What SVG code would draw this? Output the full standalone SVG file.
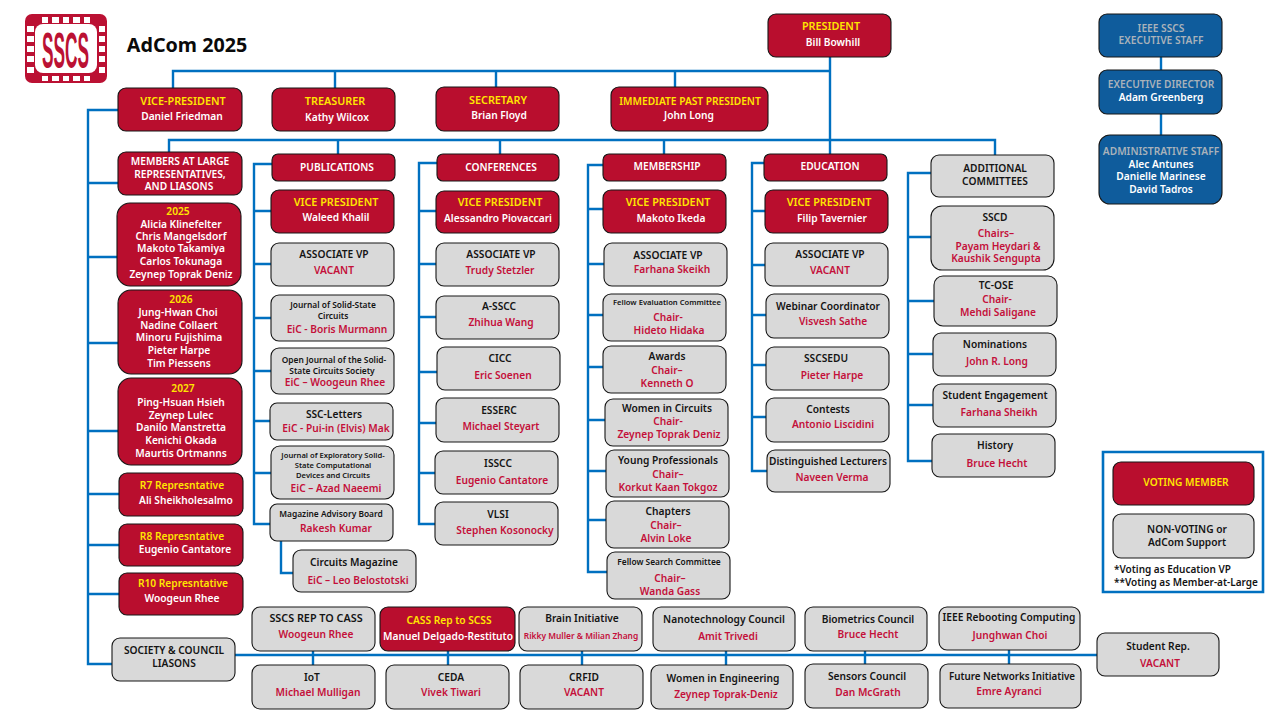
<svg xmlns="http://www.w3.org/2000/svg" width="1280" height="720" viewBox="0 0 1280 720">
<style>
rect.r,rect.g,rect.b{stroke:#161616;stroke-width:1.1}
.r{fill:#b90e2e}.g{fill:#d9d9d9}.b{fill:#0f5c9c}
text{font-family:"Noto Sans","Liberation Sans",sans-serif;font-weight:600;font-size:10.2px;text-anchor:middle}
.y{fill:#ffe600}.w{fill:#fff}.k{fill:#141414}.m{fill:#c4103a}.h{fill:#a9b2ba}
.s{font-size:8.4px}.t{font-size:7.6px}.l{font-size:10.8px}
#conn path{fill:none;stroke:#0070c0;stroke-width:2.4}
</style>
<g id="logo">
<rect x="25" y="14" width="82" height="69" rx="7" fill="#bb1133"/>
<rect x="35" y="24" width="62" height="49" rx="8" fill="#fff"/>
<path fill="#fff" d="M42 17h6v6h-6zM52 17h7v6h-7zM63 17h6v6h-6zM73 17h7v6h-7zM84 17h6v6h-6zM42 76h6v5h-6zM52 76h7v5h-7zM63 76h6v5h-6zM73 76h7v5h-7zM84 76h6v5h-6zM27 26h7v6h-7zM27 36h7v6h-7zM27 46h7v6h-7zM27 56h7v6h-7zM27 67h7v6h-7zM99 26h6v6h-6zM99 36h6v6h-6zM99 46h6v6h-6zM99 56h6v6h-6zM99 67h6v6h-6z"/>
<text transform="matrix(.48 0 0 1.39 65.500 68)" style="font-family:'Liberation Sans',sans-serif;font-weight:700;font-size:36px;fill:#bb1133">SSCS</text>
</g>
<text id="title" x="187" y="52" style="font-size:19.700px;font-weight:700;fill:#0a0a0a">AdCom 2025</text>
<g id="conn">
<path d="M173 88V71H830M335 71V88M496 71V88M675 71V88M830 57V154"/>
<path d="M169 152V140H995V155M338 140V154M500 140V154M664 140V154"/>
<path d="M118 110H88V664H112M88 183H118M88 257H118M88 343H118M88 431H118M88 494H119M88 545H119M88 594H119"/>
<path d="M272 164H254V524H270M254 211H271M254 264H271M254 318H271M254 371H271M254 421H270M254 473H271"/>
<path d="M281 541V573H293"/>
<path d="M437 163H419V524H435M419 211H436M419 264H436M419 317H436M419 372H437M419 423H436M419 473H435"/>
<path d="M603 165H588V572H607M588 209H603M588 264H604M588 315H603M588 367H603M588 420H605M588 471H606M588 520H606"/>
<path d="M764 163H752V471H767M752 211H765M752 265H765M752 315H766M752 365H766M752 417H766"/>
<path d="M931 173H908V461H932M908 237H931M908 301H934M908 354H933M908 405H933"/>
<path d="M1161 57V70M1161 114V135"/>
<path d="M235 655H1097M313 651V665M448 651V665M582 651V665M726 651V665M865 651V665M1009 650V664"/>
<path d="M1103 452H1263V592H1103Z" style="stroke-width:2.600"/>
</g>
<g id="president"><rect class="r" x="768" y="14" width="123" height="43" rx="8"/><text class="y l" x="831" y="30">PRESIDENT</text><text class="w" x="833" y="46">Bill Bowhill</text></g>
<g id="staff1"><rect class="b" x="1099" y="14" width="123" height="43" rx="8"/><text class="h" x="1161" y="32">IEEE SSCS</text><text class="h" x="1161" y="44">EXECUTIVE STAFF</text></g>
<g id="staff2"><rect class="b" x="1099" y="70" width="123" height="44" rx="8"/><text class="h" x="1161" y="88">EXECUTIVE DIRECTOR</text><text class="w" x="1161" y="101">Adam Greenberg</text></g>
<g id="staff3"><rect class="b" x="1099" y="135" width="123" height="69" rx="11"/><text class="h" x="1161" y="155">ADMINISTRATIVE STAFF</text><text class="w" x="1161" y="168">Alec Antunes</text><text class="w" x="1161" y="180">Danielle Marinese</text><text class="w" x="1161" y="193">David Tadros</text></g>
<g id="vp"><rect class="r" x="118" y="88" width="124" height="43" rx="8"/><text class="y l" x="183" y="105">VICE-PRESIDENT</text><text class="w" x="182" y="120">Daniel Friedman</text></g>
<g id="treasurer"><rect class="r" x="272" y="88" width="123" height="43" rx="8"/><text class="y l" x="335" y="105">TREASURER</text><text class="w" x="337" y="121">Kathy Wilcox</text></g>
<g id="secretary"><rect class="r" x="436" y="87" width="123" height="44" rx="8"/><text class="y l" x="498" y="104">SECRETARY</text><text class="w" x="499" y="119">Brian Floyd</text></g>
<g id="ipp"><rect class="r" x="611" y="87" width="157" height="44" rx="8"/><text class="y" x="690" y="105">IMMEDIATE PAST PRESIDENT</text><text class="w" x="689" y="119">John Long</text></g>
<g id="members"><rect class="r" x="118" y="152" width="124" height="43" rx="8"/><text class="w" x="180" y="165">MEMBERS AT LARGE</text><text class="w" x="180" y="178">REPRESENTATIVES,</text><text class="w" x="179" y="190">AND LIASONS</text></g>
<g id="y2025"><rect class="r" x="117" y="203" width="124" height="83" rx="13"/><text class="y" x="178" y="215">2025</text><text class="w" x="181" y="228">Alicia Klinefelter</text><text class="w" x="181" y="240">Chris Mangelsdorf</text><text class="w" x="181" y="252">Makoto Takamiya</text><text class="w" x="181" y="265">Carlos Tokunaga</text><text class="w" x="181" y="278">Zeynep Toprak Deniz</text></g>
<g id="y2026"><rect class="r" x="118" y="290" width="124" height="84" rx="13"/><text class="y" x="181" y="303">2026</text><text class="w" x="178" y="316">Jung-Hwan Choi</text><text class="w" x="179" y="329">Nadine Collaert</text><text class="w" x="179" y="341">Minoru Fujishima</text><text class="w" x="179" y="354">Pieter Harpe</text><text class="w" x="179" y="367">Tim Piessens</text></g>
<g id="y2027"><rect class="r" x="118" y="378" width="124" height="87" rx="13"/><text class="y" x="183" y="392">2027</text><text class="w" x="181" y="406">Ping-Hsuan Hsieh</text><text class="w" x="181" y="419">Zeynep Lulec</text><text class="w" x="181" y="431">Danilo Manstretta</text><text class="w" x="181" y="444">Kenichi Okada</text><text class="w" x="181" y="457">Maurtis Ortmanns</text></g>
<g id="r7"><rect class="r" x="119" y="473" width="124" height="43" rx="8"/><text class="y" x="182" y="489">R7 Represntative</text><text class="w" x="186" y="504">Ali Sheikholesalmo</text></g>
<g id="r8"><rect class="r" x="119" y="524" width="124" height="42" rx="8"/><text class="y" x="182" y="540">R8 Represntative</text><text class="w" x="185" y="553">Eugenio Cantatore</text></g>
<g id="r10"><rect class="r" x="119" y="573" width="124" height="42" rx="8"/><text class="y" x="183" y="587">R10 Represntative</text><text class="w" x="182" y="602">Woogeun Rhee</text></g>
<g id="society"><rect class="g" x="112" y="638" width="123" height="43" rx="8"/><text class="k" x="174" y="654">SOCIETY &amp; COUNCIL</text><text class="k" x="174" y="667">LIASONS</text></g>
<g id="pub"><rect class="r" x="272" y="154" width="123" height="27" rx="6"/><text class="w" x="337" y="171">PUBLICATIONS</text></g>
<g id="pubvp"><rect class="r" x="271" y="190" width="123" height="43" rx="8"/><text class="y l" x="336" y="206">VICE PRESIDENT</text><text class="w" x="336" y="221">Waleed Khalil</text></g>
<g id="pubavp"><rect class="g" x="271" y="243" width="123" height="43" rx="8"/><text class="k" x="334" y="258">ASSOCIATE VP</text><text class="m" x="334" y="274">VACANT</text></g>
<g id="jssc"><rect class="g" x="271" y="295" width="123" height="46" rx="8"/><text class="k s" x="333" y="308">Journal of Solid-State</text><text class="k s" x="333" y="319">Circuits</text><text class="m" x="337" y="333">EiC - Boris Murmann</text></g>
<g id="oj"><rect class="g" x="271" y="348" width="123" height="46" rx="8"/><text class="k s" x="334" y="363">Open Journal of the Solid-</text><text class="k s" x="332" y="374">State Circuits Society</text><text class="m" x="335" y="386">EiC – Woogeun Rhee</text></g>
<g id="letters"><rect class="g" x="270" y="403" width="123" height="37" rx="7"/><text class="k" x="334" y="418">SSC-Letters</text><text class="m" x="336" y="432">EiC - Pui-in (Elvis) Mak</text></g>
<g id="jetcas"><rect class="g" x="271" y="446" width="123" height="53" rx="9"/><text class="k t" x="333" y="458">Journal of Exploratory Solid-</text><text class="k t" x="333" y="468">State Computational</text><text class="k t" x="333" y="478">Devices and Circuits</text><text class="m" x="336" y="492">EiC – Azad Naeemi</text></g>
<g id="mag"><rect class="g" x="270" y="504" width="123" height="37" rx="7"/><text class="k s" x="331" y="517">Magazine Advisory Board</text><text class="m" x="336" y="532">Rakesh Kumar</text></g>
<g id="circuits"><rect class="g" x="293" y="550" width="123" height="42" rx="8"/><text class="k" x="354" y="566">Circuits Magazine</text><text class="m" x="358" y="584">EiC – Leo Belostotski</text></g>
<g id="conf"><rect class="r" x="437" y="154" width="122" height="27" rx="6"/><text class="w" x="501" y="171">CONFERENCES</text></g>
<g id="confvp"><rect class="r" x="436" y="191" width="123" height="42" rx="8"/><text class="y l" x="500" y="206">VICE PRESIDENT</text><text class="w" x="498" y="222">Alessandro Piovaccari</text></g>
<g id="confavp"><rect class="g" x="436" y="243" width="123" height="43" rx="8"/><text class="k" x="501" y="258">ASSOCIATE VP</text><text class="m" x="500" y="274">Trudy Stetzler</text></g>
<g id="assc"><rect class="g" x="436" y="296" width="123" height="43" rx="8"/><text class="k" x="499" y="310">A-SSCC</text><text class="m" x="501" y="326">Zhihua Wang</text></g>
<g id="cicc"><rect class="g" x="437" y="347" width="123" height="43" rx="8"/><text class="k" x="500" y="362">CICC</text><text class="m" x="503" y="379">Eric Soenen</text></g>
<g id="esserc"><rect class="g" x="436" y="398" width="123" height="44" rx="8"/><text class="k" x="499" y="414">ESSERC</text><text class="m" x="501" y="430">Michael Steyart</text></g>
<g id="isscc"><rect class="g" x="435" y="451" width="123" height="43" rx="8"/><text class="k" x="498" y="467">ISSCC</text><text class="m" x="502" y="484">Eugenio Cantatore</text></g>
<g id="vlsi"><rect class="g" x="435" y="502" width="123" height="43" rx="8"/><text class="k" x="498" y="518">VLSI</text><text class="m" x="505" y="534">Stephen Kosonocky</text></g>
<g id="memb"><rect class="r" x="603" y="154" width="123" height="27" rx="6"/><text class="w" x="667" y="170">MEMBERSHIP</text></g>
<g id="membvp"><rect class="r" x="603" y="190" width="123" height="43" rx="8"/><text class="y l" x="668" y="206">VICE PRESIDENT</text><text class="w" x="671" y="222">Makoto Ikeda</text></g>
<g id="membavp"><rect class="g" x="604" y="243" width="123" height="43" rx="8"/><text class="k" x="668" y="259">ASSOCIATE VP</text><text class="m" x="672" y="273">Farhana Skeikh</text></g>
<g id="fellowe"><rect class="g" x="603" y="294" width="123" height="47" rx="8"/><text class="k t" x="667" y="305">Fellow Evaluation Committee</text><text class="m" x="668" y="321">Chair-</text><text class="m" x="669" y="334">Hideto Hidaka</text></g>
<g id="awards"><rect class="g" x="603" y="346" width="123" height="47" rx="8"/><text class="k" x="667" y="360">Awards</text><text class="m" x="667" y="374">Chair–</text><text class="m" x="667" y="387">Kenneth O</text></g>
<g id="wic"><rect class="g" x="605" y="399" width="123" height="47" rx="8"/><text class="k" x="667" y="412">Women in Circuits</text><text class="m" x="668" y="425">Chair-</text><text class="m" x="669" y="438">Zeynep Toprak Deniz</text></g>
<g id="yp"><rect class="g" x="606" y="450" width="123" height="47" rx="8"/><text class="k" x="668" y="464">Young Professionals</text><text class="m" x="668" y="478">Chair–</text><text class="m" x="668" y="491">Korkut Kaan Tokgoz</text></g>
<g id="chapters"><rect class="g" x="606" y="501" width="123" height="47" rx="8"/><text class="k" x="668" y="515">Chapters</text><text class="m" x="666" y="529">Chair–</text><text class="m" x="666" y="542">Alvin Loke</text></g>
<g id="fellows"><rect class="g" x="607" y="552" width="123" height="47" rx="8"/><text class="k s" x="669" y="565">Fellow Search Committee</text><text class="m" x="670" y="582">Chair–</text><text class="m" x="670" y="595">Wanda Gass</text></g>
<g id="edu"><rect class="r" x="764" y="154" width="123" height="27" rx="6"/><text class="w" x="830" y="170">EDUCATION</text></g>
<g id="eduvp"><rect class="r" x="765" y="190" width="123" height="43" rx="8"/><text class="y l" x="829" y="206">VICE PRESIDENT</text><text class="w" x="832" y="222">Filip Tavernier</text></g>
<g id="eduavp"><rect class="g" x="765" y="243" width="123" height="43" rx="8"/><text class="k" x="830" y="258">ASSOCIATE VP</text><text class="m" x="830" y="274">VACANT</text></g>
<g id="webinar"><rect class="g" x="766" y="294" width="123" height="44" rx="8"/><text class="k" x="828" y="310">Webinar Coordinator</text><text class="m" x="833" y="325">Visvesh Sathe</text></g>
<g id="sscsedu"><rect class="g" x="766" y="347" width="123" height="43" rx="8"/><text class="k" x="826" y="362">SSCSEDU</text><text class="m" x="832" y="379">Pieter Harpe</text></g>
<g id="contests"><rect class="g" x="766" y="398" width="123" height="44" rx="8"/><text class="k" x="828" y="413">Contests</text><text class="m" x="833" y="428">Antonio Liscidini</text></g>
<g id="dl"><rect class="g" x="767" y="450" width="123" height="42" rx="8"/><text class="k" x="828" y="465">Distinguished Lecturers</text><text class="m" x="832" y="481">Naveen Verma</text></g>
<g id="addl"><rect class="g" x="931" y="155" width="123" height="42" rx="8"/><text class="k" x="995" y="172">ADDITIONAL</text><text class="k" x="995" y="185">COMMITTEES</text></g>
<g id="sscd"><rect class="g" x="931" y="206" width="123" height="64" rx="11"/><text class="k" x="995" y="221">SSCD</text><text class="m" x="996" y="237">Chairs–</text><text class="m" x="998" y="250">Payam Heydari &amp;</text><text class="m" x="996" y="262">Kaushik Sengupta</text></g>
<g id="tcose"><rect class="g" x="934" y="276" width="123" height="50" rx="9"/><text class="k" x="996" y="289">TC-OSE</text><text class="m" x="997" y="303">Chair-</text><text class="m" x="998" y="316">Mehdi Saligane</text></g>
<g id="nom"><rect class="g" x="933" y="333" width="123" height="43" rx="8"/><text class="k" x="995" y="348">Nominations</text><text class="m" x="997" y="365">John R. Long</text></g>
<g id="stud"><rect class="g" x="933" y="384" width="123" height="43" rx="8"/><text class="k" x="995" y="399">Student Engagement</text><text class="m" x="999" y="416">Farhana Sheikh</text></g>
<g id="history"><rect class="g" x="932" y="434" width="123" height="43" rx="8"/><text class="k" x="995" y="449">History</text><text class="m" x="997" y="467">Bruce Hecht</text></g>
<g id="legv"><rect class="r" x="1113" y="462" width="141" height="43" rx="8"/><text class="y" x="1186" y="486">VOTING MEMBER</text></g>
<g id="legn"><rect class="g" x="1113" y="514" width="141" height="44" rx="8"/><text class="k" x="1187" y="533">NON-VOTING or</text><text class="k" x="1187" y="546">AdCom Support</text></g>
<text x="1114" y="573" class="k" style="text-anchor:start;font-size:10px">*Voting as Education VP</text>
<text x="1114" y="586" class="k" style="text-anchor:start;font-size:10px">**Voting as Member-at-Large</text>
<g id="reptocass"><rect class="g" x="252" y="607" width="123" height="44" rx="8"/><text class="k l" x="316" y="622">SSCS REP TO CASS</text><text class="m" x="316" y="638">Woogeun Rhee</text></g>
<g id="cass"><rect class="r" x="380" y="607" width="135" height="44" rx="8"/><text class="y" x="449" y="624">CASS Rep to SCSS</text><text class="w" x="448" y="640">Manuel Delgado-Restituto</text></g>
<g id="brain"><rect class="g" x="519" y="607" width="123" height="44" rx="8"/><text class="k" x="582" y="622">Brain Initiative</text><text class="m s" x="581" y="639">Rikky Muller &amp; Milian Zhang</text></g>
<g id="nano"><rect class="g" x="653" y="607" width="142" height="44" rx="8"/><text class="k" x="724" y="623">Nanotechnology Council</text><text class="m" x="728" y="640">Amit Trivedi</text></g>
<g id="bio"><rect class="g" x="805" y="607" width="122" height="44" rx="8"/><text class="k" x="868" y="623">Biometrics Council</text><text class="m" x="868" y="638">Bruce Hecht</text></g>
<g id="reboot"><rect class="g" x="939" y="607" width="141" height="43" rx="8"/><text class="k" x="1009" y="621">IEEE Rebooting Computing</text><text class="m" x="1010" y="639">Junghwan Choi</text></g>
<g id="iot"><rect class="g" x="252" y="665" width="123" height="44" rx="8"/><text class="k" x="312" y="681">IoT</text><text class="m" x="318" y="696">Michael Mulligan</text></g>
<g id="ceda"><rect class="g" x="386" y="665" width="123" height="44" rx="8"/><text class="k" x="451" y="681">CEDA</text><text class="m" x="451" y="696">Vivek Tiwari</text></g>
<g id="crfid"><rect class="g" x="520" y="665" width="123" height="44" rx="8"/><text class="k" x="584" y="681">CRFID</text><text class="m" x="584" y="696">VACANT</text></g>
<g id="wie"><rect class="g" x="651" y="665" width="142" height="44" rx="8"/><text class="k" x="723" y="682">Women in Engineering</text><text class="m" x="726" y="698">Zeynep Toprak-Deniz</text></g>
<g id="sensors"><rect class="g" x="805" y="664" width="123" height="44" rx="8"/><text class="k" x="867" y="680">Sensors Council</text><text class="m" x="868" y="696">Dan McGrath</text></g>
<g id="fni"><rect class="g" x="940" y="664" width="141" height="44" rx="8"/><text class="k" x="1012" y="680" style="font-size:9.800px">Future Networks Initiative</text><text class="m" x="1009" y="695">Emre Ayranci</text></g>
<g id="studrep"><rect class="g" x="1097" y="633" width="122" height="43" rx="8"/><text class="k" x="1158" y="650">Student Rep.</text><text class="m" x="1160" y="667">VACANT</text></g>
</svg>
